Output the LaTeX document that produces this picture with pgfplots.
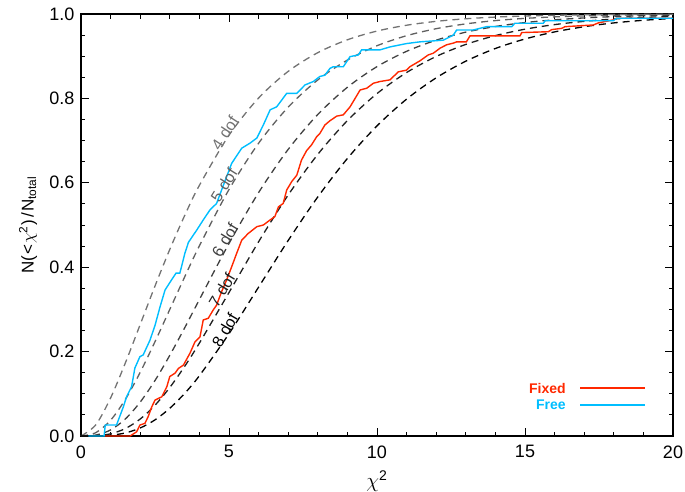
\documentclass[border=0pt]{standalone}
\usepackage{pgfplots}
\usepackage{pgfplotstable}
\pgfplotsset{compat=1.18}
\usepackage{fontspec}
\setmainfont{Liberation Sans}
\definecolor{fixedred}{RGB}{255,40,0}
\definecolor{freecyan}{RGB}{0,190,255}
\definecolor{g4}{gray}{0.45}
\definecolor{g5}{gray}{0.38}
\definecolor{g6}{gray}{0.25}
\definecolor{g7}{gray}{0.12}
\definecolor{g8}{gray}{0.0}

\pgfplotstableread{
x f4 f5 f6 f7 f8
0 0 0 0 0 0
0.5 0.0265 0.0079 0.0022 0.0006 0.0002
1 0.0902 0.0374 0.0144 0.0052 0.0018
1.5 0.1734 0.0869 0.0405 0.0177 0.0073
2 0.2642 0.1509 0.0803 0.0402 0.0190
2.5 0.3554 0.2235 0.1315 0.0729 0.0382
3 0.4422 0.3000 0.1912 0.1150 0.0657
3.5 0.5221 0.3766 0.2560 0.1648 0.1008
4 0.5940 0.4506 0.3233 0.2202 0.1429
5 0.7127 0.5841 0.4562 0.3400 0.2424
6 0.8009 0.6938 0.5768 0.4603 0.3528
7 0.8641 0.7793 0.6792 0.5711 0.4634
8 0.9084 0.8438 0.7619 0.6674 0.5665
9 0.9389 0.8909 0.8264 0.7474 0.6577
10 0.9596 0.9248 0.8753 0.8114 0.7349
11 0.9734 0.9486 0.9116 0.8613 0.7983
12 0.9826 0.9652 0.9380 0.8994 0.8488
13 0.9887 0.9766 0.9570 0.9279 0.8882
14 0.9927 0.9844 0.9704 0.9488 0.9183
15 0.9953 0.9896 0.9797 0.9640 0.9408
16 0.9970 0.9932 0.9862 0.9749 0.9576
17 0.9981 0.9955 0.9907 0.9826 0.9699
18 0.9988 0.9971 0.9938 0.9881 0.9789
19 0.9992 0.9981 0.9958 0.9918 0.9851
20 0.9995 0.9988 0.9972 0.9944 0.9896
}\chisq

\pgfplotstableread{
x y
0.8 0
1.66 0
1.88 0.010
1.99 0.026
2.16 0.030
2.27 0.046
2.39 0.069
2.5 0.085
2.73 0.093
2.9 0.117
3.0 0.141
3.18 0.149
3.29 0.160
3.46 0.168
3.68 0.196
3.85 0.223
4.02 0.235
4.13 0.275
4.3 0.279
4.47 0.299
4.58 0.310
4.75 0.342
4.92 0.370
5.09 0.401
5.26 0.433
5.43 0.464
5.65 0.480
5.94 0.496
6.16 0.500
6.39 0.512
6.55 0.520
6.67 0.543
6.83 0.551
6.95 0.583
7.12 0.603
7.29 0.618
7.45 0.654
7.62 0.676
7.79 0.690
7.96 0.709
8.07 0.717
8.24 0.737
8.41 0.747
8.64 0.758
8.86 0.761
9.09 0.780
9.26 0.800
9.43 0.820
9.65 0.824
9.88 0.836
10.1 0.840
10.44 0.844
10.72 0.863
11.0 0.867
11.11 0.875
11.45 0.889
11.73 0.903
11.9 0.907
12.13 0.919
12.35 0.927
12.58 0.931
12.69 0.934
13.02 0.934
13.14 0.948
14.83 0.948
14.89 0.956
15.79 0.958
15.9 0.963
16.24 0.966
16.35 0.970
17.31 0.974
17.48 0.979
17.98 0.986
18.1 0.990
20 0.990
}\fixed

\pgfplotstableread{
x y
0.25 0
0.78 0
0.82 0.026
1.2 0.026
1.43 0.069
1.54 0.093
1.71 0.117
1.82 0.161
1.99 0.188
2.1 0.192
2.33 0.227
2.5 0.262
2.67 0.306
2.84 0.346
3.06 0.370
3.21 0.386
3.34 0.386
3.51 0.433
3.63 0.459
3.91 0.488
4.13 0.512
4.36 0.536
4.58 0.551
4.75 0.583
5.09 0.646
5.43 0.682
5.71 0.694
5.94 0.706
6.16 0.737
6.39 0.773
6.61 0.780
6.95 0.812
7.29 0.812
7.57 0.832
7.85 0.840
8.07 0.852
8.24 0.855
8.41 0.871
8.52 0.875
8.86 0.875
9.09 0.899
9.37 0.903
9.48 0.915
10.1 0.915
10.44 0.922
11.0 0.930
11.45 0.934
12.24 0.938
12.58 0.950
12.69 0.962
13.25 0.962
13.7 0.970
14.55 0.970
14.66 0.978
15.62 0.978
15.68 0.984
17.98 0.984
18.1 0.990
20 0.990
}\free

\begin{document}
\begin{tikzpicture}
\path[use as bounding box] (-81pt,-55pt) rectangle (604pt,436pt);
\begin{axis}[
  at={(0pt,0pt)}, anchor=south west,
  scale only axis, width=592pt, height=422pt,
  xmin=0, xmax=20, ymin=0, ymax=1.0,
  xtick={0,5,10,15,20},
  ytick={0,0.2,0.4,0.6,0.8,1.0},
  minor x tick num=4, minor y tick num=3,
  tick align=inside,
  major tick length=8pt, minor tick length=4.5pt,
  every tick/.style={black, line width=1pt},
  axis line style={black, line width=1.2pt},
  clip=false,
  /pgf/number format/assume math mode=true,
  yticklabel style={/pgf/number format/fixed, /pgf/number format/precision=1, /pgf/number format/fixed zerofill, font=\fontsize{18}{18}\selectfont, xshift=-3pt},
  xticklabel style={font=\fontsize{18}{18}\selectfont, yshift=-6pt},
  every axis x label/.style={at={(axis description cs:0.5,-0.1066)}, anchor=center},
  every axis y label/.style={at={(axis description cs:-0.0895,0.5)}, rotate=90, anchor=center},
  xlabel={\fontsize{20}{20}\selectfont $\chi$\textsuperscript{2}},
  ylabel={\fontsize{17}{17}\selectfont N(\kern1pt<\kern1pt$\chi$\textsuperscript{2}\kern1pt)\kern1.5pt/\kern1.5pt N\textsubscript{total}},
]
\addplot[g4, line width=1.3pt, dash pattern=on 7pt off 5pt, smooth] table[x=x, y=f4] {\chisq};
\addplot[g5, line width=1.3pt, dash pattern=on 7pt off 5pt, smooth] table[x=x, y=f5] {\chisq};
\addplot[g6, line width=1.3pt, dash pattern=on 7pt off 5pt, smooth] table[x=x, y=f6] {\chisq};
\addplot[g7, line width=1.3pt, dash pattern=on 7pt off 5pt, smooth] table[x=x, y=f7] {\chisq};
\addplot[g8, line width=1.3pt, dash pattern=on 7pt off 5pt, smooth] table[x=x, y=f8] {\chisq};
\addplot[fixedred, line width=1.4pt] table[x=x, y=y] {\fixed};
\addplot[freecyan, line width=1.4pt] table[x=x, y=y] {\free};
\node[g4, rotate=57, font=\fontsize{16}{16}\selectfont] at (axis cs:4.86,0.718) {4 dof};
\node[g5, rotate=58, font=\fontsize{16}{16}\selectfont] at (axis cs:4.83,0.595) {5 dof};
\node[g6, rotate=59, font=\fontsize{16}{16}\selectfont] at (axis cs:4.86,0.464) {6 dof};
\node[g7, rotate=59, font=\fontsize{16}{16}\selectfont] at (axis cs:4.76,0.346) {7 dof};
\node[g8, rotate=60, font=\fontsize{16}{16}\selectfont] at (axis cs:4.86,0.251) {8 dof};
% legend
\draw[fixedred, line width=1.4pt] (axis description cs:0.843,0.1137) -- (axis description cs:0.953,0.1137);
\draw[freecyan, line width=1.4pt] (axis description cs:0.843,0.0735) -- (axis description cs:0.953,0.0735);
\node[anchor=east, text=fixedred, font=\bfseries\fontsize{14}{14}\selectfont, inner sep=0pt] at (axis description cs:0.819,0.1137) {Fixed};
\node[anchor=east, text=freecyan, font=\bfseries\fontsize{14}{14}\selectfont, inner sep=0pt] at (axis description cs:0.819,0.0735) {Free};
\end{axis}
\end{tikzpicture}
\end{document}
